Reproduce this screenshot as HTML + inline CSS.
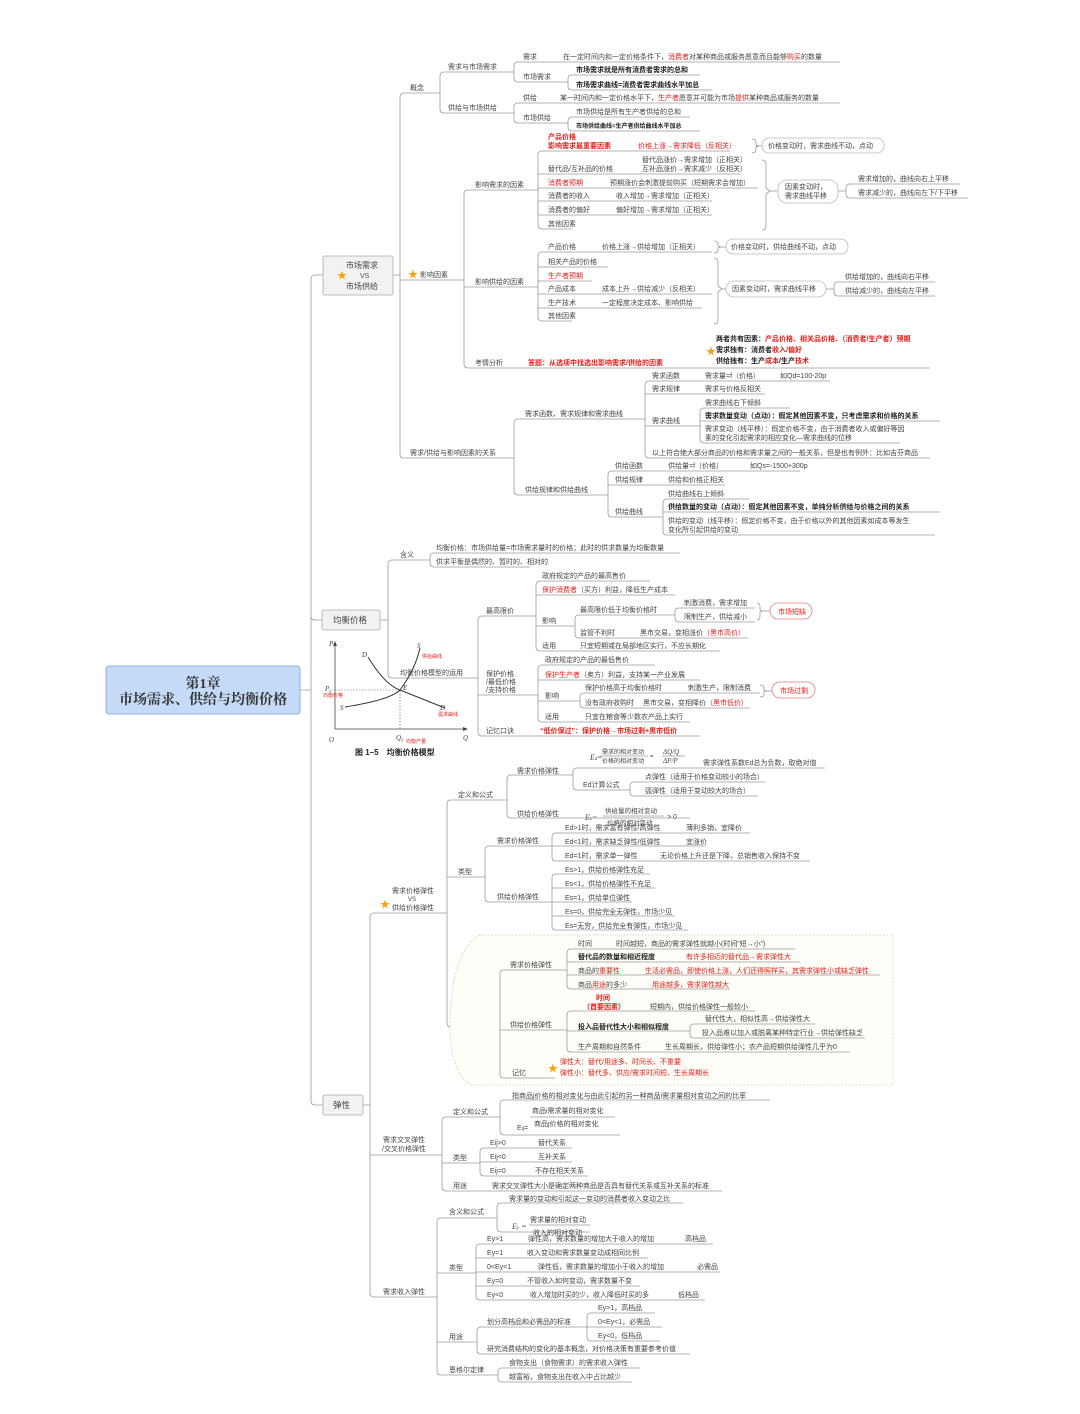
<!DOCTYPE html>
<html><head><meta charset="utf-8"><style>
html,body{margin:0;padding:0;background:#fff;}
svg{display:block;font-family:"Liberation Sans","Noto Sans CJK SC",sans-serif;}
text{font-size:7px;fill:#444;}
.r{fill:#e0201a;}
.b{font-weight:bold;fill:#222;}
.rb{fill:#e0201a;font-weight:bold;}
.l{stroke:#9a9a9a;stroke-width:0.8;fill:none;}
.box{fill:#f2f2f2;stroke:#aaa;stroke-width:0.8;}
.pill{fill:#fff;stroke:#bbb;stroke-width:0.8;}
.rpill{fill:#fff;stroke:#e08080;stroke-width:0.8;}
</style></head><body>
<svg width="1080" height="1414" viewBox="0 0 1080 1414" xmlns="http://www.w3.org/2000/svg">
<rect width="1080" height="1414" fill="#fff"/>

<!-- central -->
<path class="l" d="M300 690 H311 M311 279 V1101 M311 279 Q311 275 315 275 H323 M311 616 Q311 620 315 620 H322 M311 1101 Q311 1105 315 1105 H323"/>
<rect x="106" y="666" width="194" height="48" rx="3" fill="#c5daf6" stroke="#8fb0dd" stroke-width="1"/>
<text x="203" y="688" text-anchor="middle" style="font-size:14px;font-family:'Liberation Serif','Noto Serif CJK SC',serif;font-weight:bold;fill:#333">第1章</text>
<text x="203" y="704" text-anchor="middle" style="font-size:14px;font-family:'Liberation Serif','Noto Serif CJK SC',serif;font-weight:bold;fill:#333">市场需求、供给与均衡价格</text>

<!-- branch boxes -->
<rect class="box" x="323" y="256" width="70" height="39" rx="2"/>
<text x="337" y="279" style="font-size:10px;fill:#f2a60c">★</text>
<text x="346" y="268" style="font-size:8px">市场需求</text>
<text x="360" y="278" style="font-size:7px">VS</text>
<text x="346" y="289" style="font-size:8px">市场供给</text>
<rect class="box" x="322" y="610" width="58" height="20" rx="2"/>
<text x="333" y="623" style="font-size:8.5px">均衡价格</text>
<rect class="box" x="323" y="1095" width="40" height="20" rx="2"/>
<text x="333" y="1108" style="font-size:8.5px">弹性</text>

<!-- ===== Branch 1 ===== -->
<path class="l" d="M393 275 H400 M400 97 Q400 93 404 93 H440 M400 97 V454 Q400 458 404 458 H512 M400 280 H462"/>
<text x="410" y="90">概念</text>
<!-- 概念 -->
<path class="l" d="M440 93 V76 Q440 72 444 72 H512 M440 93 V109 Q440 113 444 113 H512"/>
<text x="448" y="69">需求与市场需求</text>
<text x="448" y="110">供给与市场供给</text>
<path class="l" d="M512 72 H514 V66 Q514 62 518 62 H840 M514 72 V78 Q514 82 518 82 H568 M568 82 V79 Q568 75 572 75 H700 M568 82 V86 Q568 90 572 90 H712"/>
<text x="523" y="59">需求</text>
<text x="563" y="59">在一定时间内和一定价格条件下，<tspan class="r">消费者</tspan>对某种商品或服务愿意而且能够<tspan class="r">购买</tspan>的数量</text>
<text x="523" y="79">市场需求</text>
<text x="576" y="72" class="b">市场需求就是所有消费者需求的总和</text>
<text x="576" y="87" class="b">市场需求曲线=消费者需求曲线水平加总</text>
<path class="l" d="M512 113 H514 V107 Q514 103 518 103 H840 M514 113 V119 Q514 123 518 123 H568 M568 123 V121 Q568 117 572 117 H690 M568 123 V127 Q568 131 572 131 H700"/>
<text x="523" y="100">供给</text>
<text x="560" y="100">某一时间内和一定价格水平下，<tspan class="r">生产者</tspan>愿意并可能为市场<tspan class="r">提供</tspan>某种商品或服务的数量</text>
<text x="523" y="120">市场供给</text>
<text x="576" y="114">市场供给是所有生产者供给的总和</text>
<text x="576" y="128" class="b" style="font-size:6px">市场供给曲线=生产者供给曲线水平加总</text>

<!-- 影响因素 -->
<text x="408" y="278" style="font-size:10px;fill:#f2a60c">★</text>
<text x="420" y="277">影响因素</text>
<path class="l" d="M462 280 H464 M464 194 Q464 190 468 190 H536 M464 194 V364 Q464 368 468 368 H930 M464 287 H536"/>
<text x="475" y="187">影响需求的因素</text>
<text x="475" y="284">影响供给的因素</text>
<text x="475" y="365">考情分析</text>
<text x="528" y="365" class="rb">答题：从选项中找选出影响需求/供给的因素</text>
<text x="706" y="355" style="font-size:10px;fill:#f2a60c">★</text>
<text x="716" y="341" class="b">两者共有因素：<tspan class="rb">产品价格、相关品价格、（消费者/生产者）预期</tspan></text>
<text x="716" y="352" class="b">需求独有：消费者<tspan class="rb">收入/偏好</tspan></text>
<text x="716" y="363" class="b">供给独有：生产<tspan class="rb">成本</tspan>/生产<tspan class="rb">技术</tspan></text>

<path class="l" d="M536 190 H538 V155 Q538 151 542 151 H730 M538 190 V225 Q538 229 542 229 H572 M538 174 H740 M538 188 H758 M538 201 H712 M538 215 H712"/>
<text x="548" y="139" class="rb">产品价格</text>
<text x="548" y="148" class="rb">影响需求最重要因素</text>
<text x="638" y="148" class="r">价格上涨→需求降低（反相关）</text>
<text x="548" y="171">替代品/互补品的价格</text>
<text x="642" y="162">替代品涨价→需求增加（正相关）</text>
<text x="642" y="171">互补品涨价→需求减少（反相关）</text>
<text x="548" y="185" class="r">消费者预期</text>
<text x="610" y="185">预期涨价会刺激提前购买（短期需求会增加）</text>
<text x="548" y="198">消费者的收入</text>
<text x="616" y="198">收入增加→需求增加（正相关）</text>
<text x="548" y="212">消费者的偏好</text>
<text x="616" y="212">偏好增加→需求增加（正相关）</text>
<text x="548" y="226">其他因素</text>
<path class="l" d="M752 139 Q756 139 756 143 V145 L759 146 L756 147 V149 Q756 153 752 153 M756 146 H762"/>
<rect class="pill" x="762" y="138" width="122" height="15" rx="7"/>
<text x="768" y="148">价格变动时，需求曲线不动，点动</text>
<path class="l" d="M762 160 Q766 160 766 164 V188 L770 191 L766 194 V226 Q766 230 762 230 M770 191 H778"/>
<rect class="pill" x="778" y="180" width="60" height="23" rx="9"/>
<text x="785" y="189">因素变动时，</text>
<text x="785" y="198">需求曲线平移</text>
<path class="l" d="M838 191 H846 M850 184 Q846 184 846 188 V194 Q846 198 850 198 M850 184 H960 M850 198 H968"/>
<text x="858" y="181">需求增加的，曲线向右上平移</text>
<text x="858" y="195">需求减少的，曲线向左下/下平移</text>

<path class="l" d="M536 287 H538 V256 Q538 252 542 252 H712 M538 287 V317 Q538 321 542 321 H572 M538 267 H608 M538 281 H592 M538 294 H712 M538 308 H702"/>
<text x="548" y="249">产品价格</text>
<text x="602" y="249">价格上涨→供给增加（正相关）</text>
<text x="548" y="264">相关产品的价格</text>
<text x="548" y="278" class="r">生产者预期</text>
<text x="548" y="291">产品成本</text>
<text x="602" y="291">成本上升→供给减少（反相关）</text>
<text x="548" y="305">生产技术</text>
<text x="602" y="305">一定程度决定成本、影响供给</text>
<text x="548" y="318">其他因素</text>
<path class="l" d="M714 241 Q718 241 718 244 V246 L721 247 L718 248 V250 Q718 253 714 253 M721 247 H726"/>
<rect class="pill" x="726" y="239" width="122" height="15" rx="7"/>
<text x="731" y="249">价格变动时，供给曲线不动，点动</text>
<path class="l" d="M714 258 Q718 258 718 262 V286 L722 289 L718 292 V320 Q718 324 714 324 M722 289 H726"/>
<rect class="pill" x="726" y="281" width="100" height="16" rx="8"/>
<text x="732" y="291">因素变动时，需求曲线平移</text>
<path class="l" d="M826 289 H834 M838 282 Q834 282 834 286 V292 Q834 296 838 296 M838 282 H935 M838 296 H935"/>
<text x="845" y="279">供给增加的，曲线向右平移</text>
<text x="845" y="293">供给减少的，曲线向左平移</text>

<!-- 需求/供给与影响因素的关系 -->
<text x="410" y="455">需求/供给与影响因素的关系</text>
<path class="l" d="M512 458 H514 M514 423 Q514 419 518 419 H640 M514 423 V491 Q514 495 518 495 H605"/>
<text x="525" y="416">需求函数、需求规律和需求曲线</text>
<text x="525" y="492">供给规律和供给曲线</text>
<path class="l" d="M640 419 H645 M645 385 Q645 381 649 381 H830 M645 385 V454 Q645 458 649 458 H930 M645 394 H765 M645 426 H700"/>
<text x="652" y="378">需求函数</text>
<text x="705" y="378">需求量=f（价格）</text>
<text x="780" y="378">如Qd=100-20p</text>
<text x="652" y="391">需求规律</text>
<text x="705" y="391">需求与价格反相关</text>
<text x="652" y="423">需求曲线</text>
<path class="l" d="M700 426 V412 Q700 408 704 408 H790 M700 421 H940 M700 426 V439 Q700 443 704 443 H900"/>
<text x="705" y="405">需求曲线右下倾斜</text>
<text x="705" y="418" class="b">需求数量变动（点动）：假定其他因素不变，只考虑需求和价格的关系</text>
<text x="705" y="431">需求变动（线平移）：假定价格不变，由于消费者收入或偏好等因</text>
<text x="705" y="440">素的变化引起需求的相应变化—需求曲线的位移</text>
<text x="652" y="455">以上符合绝大部分商品的价格和需求量之间的一般关系，但是也有例外：比如吉芬商品</text>
<path class="l" d="M605 495 H608 M608 475 Q608 471 612 471 H800 M608 475 V513 Q608 517 612 517 H663 M608 485 H725"/>
<text x="615" y="468">供给函数</text>
<text x="668" y="468">供给量=f（价格）</text>
<text x="750" y="468">如Qs=-1500+300p</text>
<text x="615" y="482">供给规律</text>
<text x="668" y="482">供给和价格正相关</text>
<text x="615" y="514">供给曲线</text>
<path class="l" d="M663 517 V503 Q663 499 667 499 H750 M663 512 H940 M663 517 V531 Q663 535 667 535 H935"/>
<text x="668" y="496">供给曲线右上倾斜</text>
<text x="668" y="509" class="b">供给数量的变动（点动）：假定其他因素不变，单纯分析供给与价格之间的关系</text>
<text x="668" y="523">供给的变动（线平移）：假定价格不变，由于价格以外的其他因素如成本等发生</text>
<text x="668" y="532">变化所引起供给的变动</text>

<!-- ===== 均衡价格 ===== -->
<path class="l" d="M380 620 H388 M388 564 Q388 560 392 560 H430 M388 564 V674 Q388 678 392 678 H478 M430 560 V557 Q430 553 434 553 H680 M430 560 V563 Q430 567 434 567 H530"/>
<text x="400" y="557">含义</text>
<text x="436" y="550">均衡价格：市场供给量=市场需求量时的价格；此时的供求数量为均衡数量</text>
<text x="436" y="564">供求平衡是偶然的、暂时的、相对的</text>
<text x="400" y="675">均衡价格模型的运用</text>
<path class="l" d="M478 678 V620 Q478 616 482 616 H536 M478 678 V732 Q478 736 482 736 H700 M478 695 H538"/>
<text x="486" y="613">最高限价</text>
<text x="486" y="676">保护价格</text>
<text x="486" y="684">/最低价格</text>
<text x="486" y="692">/支持价格</text>
<text x="486" y="733">记忆口诀</text>
<text x="540" y="733" class="rb">“低价保过”：保护价格→市场过剩+黑市低价</text>

<path class="l" d="M536 616 V585 Q536 581 540 581 H650 M536 616 V647 Q536 651 540 651 H720 M536 595 H675 M536 626 H575"/>
<text x="542" y="578">政府规定的产品的最高售价</text>
<text x="542" y="592"><tspan class="r">保护消费者</tspan>（买方）利益，降低生产成本</text>
<text x="542" y="623">影响</text>
<text x="542" y="648">适用</text>
<text x="580" y="648">只宜短期或在局部地区实行，不应长期化</text>
<path class="l" d="M575 626 V619 Q575 615 579 615 H670 M575 626 V634 Q575 638 579 638 H748"/>
<text x="580" y="612">最高限价低于均衡价格时</text>
<text x="580" y="635">监管不利时</text>
<text x="640" y="635">黑市交易，变相涨价<tspan class="r">（黑市高价）</tspan></text>
<path class="l" d="M670 615 H675 M679 608 Q675 608 675 612 V618 Q675 622 679 622 M679 608 H755 M679 622 H755"/>
<text x="684" y="605">刺激消费，需求增加</text>
<text x="684" y="619">限制生产，供给减小</text>
<path class="l" d="M757 603 Q760 603 760 607 V610 L763 611 L760 612 V616 Q760 620 757 620 M763 611 H770"/>
<rect class="rpill" x="770" y="603" width="42" height="16" rx="8"/>
<text x="778" y="614" class="r">市场短缺</text>

<path class="l" d="M538 695 V669 Q538 665 542 665 H655 M538 695 V718 Q538 722 542 722 H690 M538 680 H700 M538 701 H580"/>
<text x="545" y="662">政府规定的产品的最低售价</text>
<text x="545" y="677"><tspan class="r">保护生产者</tspan>（卖方）利益，支持某一产业发展</text>
<text x="545" y="698">影响</text>
<text x="545" y="719">适用</text>
<text x="585" y="719">只宜在粮食等少数农产品上实行</text>
<path class="l" d="M580 701 V697 Q580 693 584 693 H760 M580 701 V704 Q580 708 584 708 H750"/>
<text x="585" y="690">保护价格高于均衡价格时</text>
<text x="688" y="690">刺激生产，限制消费</text>
<text x="585" y="705">没有政府收购时</text>
<text x="643" y="705">黑市交易，变相降价<tspan class="r">（黑市低价）</tspan></text>
<path class="l" d="M760 685 Q764 685 764 688 V690 L767 691 L764 692 V694 Q764 697 760 697 M767 691 H772"/>
<rect class="rpill" x="772" y="682" width="43" height="16" rx="8"/>
<text x="780" y="693" class="r">市场过剩</text>

<!-- graph -->
<g>
<path d="M335 729 V643 M335 729 H466" stroke="#444" stroke-width="0.8" fill="none"/>
<path d="M333 646 L335 641 L337 646 Z M463 727 L468 729 L463 731 Z" fill="#444"/>
<path d="M368 657 Q385 685 400 690 Q425 700 445 708" stroke="#333" stroke-width="1" fill="none"/>
<path d="M345 707 Q390 700 400 690 Q415 670 420 648" stroke="#333" stroke-width="1" fill="none"/>
<path d="M335 690 H400 V729" stroke="#555" stroke-width="0.6" stroke-dasharray="1.5,1.5" fill="none"/>
<text x="329" y="646" style="font-style:italic;font-family:'Liberation Serif',serif;">P</text>
<text x="362" y="657" style="font-style:italic;font-family:'Liberation Serif',serif;">D</text>
<text x="417" y="648" style="font-style:italic;font-family:'Liberation Serif',serif;">S</text>
<text x="422" y="658" class="r" style="font-size:5px">供给曲线</text>
<text x="403" y="690" style="font-style:italic;font-family:'Liberation Serif',serif;">E</text>
<text x="325" y="691" style="font-style:italic;font-family:'Liberation Serif',serif;">P₀</text>
<text x="323" y="697" class="r" style="font-size:5px">均衡价格</text>
<text x="340" y="710" style="font-style:italic;font-family:'Liberation Serif',serif;">S</text>
<text x="440" y="710" style="font-style:italic;font-family:'Liberation Serif',serif;">D</text>
<text x="438" y="716" class="r" style="font-size:5px">需求曲线</text>
<text x="329" y="742" style="font-style:italic;font-family:'Liberation Serif',serif;">O</text>
<text x="396" y="740" style="font-style:italic;font-family:'Liberation Serif',serif;">Q₀</text>
<text x="406" y="743" class="r" style="font-size:5px">均衡产量</text>
<text x="463" y="740" style="font-style:italic;font-family:'Liberation Serif',serif;">Q</text>
<text x="355" y="755" class="b" style="font-size:8px">图 1–5　均衡价格模型</text>
</g>

<!-- ===== 弹性 ===== -->
<path class="l" d="M363 1105 H370 M370 917 Q370 913 374 913 H447 M370 917 V1293 Q370 1297 374 1297 H437 M370 1155 H442"/>
<text x="380" y="908" style="font-size:10px;fill:#f2a60c">★</text>
<text x="392" y="893">需求价格弹性</text>
<text x="408" y="901" style="font-size:6px">VS</text>
<text x="392" y="910">供给价格弹性</text>

<path class="l" d="M447 913 V804 Q447 800 451 800 H507 M447 913 V1023 Q447 1027 451 1027 H500 M447 877 H485"/>
<text x="458" y="797">定义和公式</text>
<text x="458" y="874">类型</text>
<text x="458" y="1024">影响因素</text>
<path class="l" d="M507 800 V779 Q507 775 511 775 H573 M507 800 V814 Q507 818 511 818 H582"/>
<text x="517" y="773">需求价格弹性</text>
<text x="517" y="816">供给价格弹性</text>
<text x="590" y="760" style="font-style:italic;font-family:'Liberation Serif',serif;font-size:8px">E<tspan style="font-size:5px">d</tspan>=</text>
<text x="602" y="754" style="font-size:6px">需求的相对变动</text>
<line x1="601" y1="756" x2="648" y2="756" stroke="#666" stroke-width="0.5"/>
<text x="602" y="763" style="font-size:6px">价格的相对变动</text>
<text x="650" y="758" style="font-size:6px">=</text>
<text x="663" y="754" style="font-style:italic;font-family:'Liberation Serif',serif;font-size:7px">ΔQ/Q</text>
<line x1="662" y1="756" x2="685" y2="756" stroke="#666" stroke-width="0.5"/>
<text x="663" y="763" style="font-style:italic;font-family:'Liberation Serif',serif;font-size:7px">ΔP/P</text>
<path class="l" d="M573 775 V772 Q573 768 577 768 H825 M573 775 V786 Q573 790 577 790 H630 M630 790 V786 Q630 782 634 782 H765 M630 790 V792 Q630 796 634 796 H758"/>
<text x="703" y="765">需求弹性系数Ed总为负数，取绝对值</text>
<text x="583" y="787">Ed计算公式</text>
<text x="645" y="779">点弹性（适用于价格变动较小的场合）</text>
<text x="645" y="793">弧弹性（适用于变动较大的场合）</text>
<text x="585" y="820" style="font-style:italic;font-family:'Liberation Serif',serif;font-size:8px">E<tspan style="font-size:5px">s</tspan>=</text>
<text x="605" y="813" style="font-size:6.5px">供给量的相对变动</text>
<line x1="603" y1="816" x2="664" y2="816" stroke="#666" stroke-width="0.5"/>
<text x="607" y="825" style="font-size:6.5px">价格的相对变动</text>
<text x="667" y="819" style="font-size:7px">&gt; 0</text>
<path class="l" d="M582 818 H690"/>

<path class="l" d="M485 877 V850 Q485 846 489 846 H552 M485 877 V898 Q485 902 489 902 H552"/>
<text x="497" y="843">需求价格弹性</text>
<text x="497" y="899">供给价格弹性</text>
<path class="l" d="M552 846 V837 Q552 833 556 833 H750 M552 846 H705 M552 846 V857 Q552 861 556 861 H810"/>
<text x="565" y="830">Ed&gt;1时，需求富有弹性/高弹性</text>
<text x="686" y="830">薄利多销，宜降价</text>
<text x="565" y="844">Ed&lt;1时，需求缺乏弹性/低弹性</text>
<text x="686" y="844">宜涨价</text>
<text x="565" y="858">Ed=1时，需求单一弹性</text>
<text x="660" y="858">无论价格上升还是下降，总销售收入保持不变</text>
<path class="l" d="M552 902 V878 Q552 874 556 874 H650 M552 888 H655 M552 902 H632 M552 916 H675 M552 902 V926 Q552 930 556 930 H688"/>
<text x="565" y="872">Es&gt;1，供给价格弹性充足</text>
<text x="565" y="886">Es&lt;1，供给价格弹性不充足</text>
<text x="565" y="900">Es=1，供给单位弹性</text>
<text x="565" y="914">Es=0，供给完全无弹性，市场少见</text>
<text x="565" y="928">Es=无穷，供给完全有弹性，市场少见</text>

<!-- 影响因素 box -->
<path d="M480 935 Q465 945 460 960 Q450 985 450 1027 Q450 1070 470 1085 H893 V935 Z" fill="#fffdf8" stroke="#d8cfc0" stroke-width="0.8" stroke-dasharray="2,1.5"/>
<path class="l" d="M500 1027 H500 M500 974 Q500 970 504 970 H567 M500 974 V1074 Q500 1078 504 1078 H555 M500 1030 H567"/>
<text x="510" y="967">需求价格弹性</text>
<text x="510" y="1027">供给价格弹性</text>
<text x="512" y="1075">记忆</text>
<path class="l" d="M567 970 V953 Q567 949 571 949 H795 M567 962 H800 M567 975 H880 M567 970 V985 Q567 989 571 989 H730"/>
<text x="578" y="946">时间</text>
<text x="616" y="946">时间越短，商品的需求弹性就越小(时间“短→小”)</text>
<text x="578" y="959" class="b">替代品的数量和相近程度</text>
<text x="686" y="959" class="r">有许多相近的替代品→需求弹性大</text>
<text x="578" y="973">商品的<tspan class="r">重要性</tspan></text>
<text x="645" y="973" class="r">生活必需品，即使价格上涨，人们还得照样买，其需求弹性小或缺乏弹性</text>
<text x="578" y="987">商品<tspan class="r">用途</tspan>的多少</text>
<text x="652" y="987" class="r">用途越多，需求弹性越大</text>
<path class="l" d="M567 1030 V1015 Q567 1011 571 1011 H755 M567 1031 H690 M567 1030 V1048 Q567 1052 571 1052 H850"/>
<text x="596" y="1000" class="rb">时间</text>
<text x="583" y="1009" class="rb">（首要因素）</text>
<text x="650" y="1009">短期内，供给价格弹性一般较小</text>
<text x="578" y="1029" class="b">投入品替代性大小和相似程度</text>
<path class="l" d="M690 1031 V1028 Q690 1024 694 1024 H815 M690 1031 V1034 Q690 1038 694 1038 H865"/>
<text x="705" y="1021">替代性大，相似性高→供给弹性大</text>
<text x="702" y="1035">投入品难以加入或脱离某种特定行业→供给弹性缺乏</text>
<text x="578" y="1049">生产周期和自然条件</text>
<text x="665" y="1049">生长周期长，供给弹性小；农产品短期供给弹性几乎为0</text>
<text x="548" y="1072" style="font-size:10px;fill:#f2a60c">★</text>
<text x="560" y="1064" class="r">弹性大：替代/用途多、时间长、不重要</text>
<text x="560" y="1075" class="r">弹性小：替代多、供应/需求时间短、生长周期长</text>

<!-- 需求交叉弹性 -->
<text x="383" y="1142">需求交叉弹性</text>
<text x="382" y="1151">/交叉价格弹性</text>
<path class="l" d="M442 1155 V1121 Q442 1117 446 1117 H500 M442 1155 V1187 Q442 1191 446 1191 H722 M442 1163 H480"/>
<text x="453" y="1114">定义和公式</text>
<text x="453" y="1160">类型</text>
<text x="453" y="1188">用途</text>
<text x="492" y="1188">需求交叉弹性大小是确定两种商品是否具有替代关系或互补关系的标准</text>
<path class="l" d="M500 1117 V1104 Q500 1100 504 1100 H770 M500 1117 V1131 Q500 1135 504 1135 H620"/>
<text x="512" y="1098">指商品j价格的相对变化与由此引起的另一种商品i需求量相对变动之间的比率</text>
<text x="532" y="1113">商品i需求量的相对变化</text>
<line x1="530" y1="1117" x2="615" y2="1117" stroke="#666" stroke-width="0.5"/>
<text x="534" y="1126">商品j价格的相对变化</text>
<text x="517" y="1130">E<tspan style="font-size:5px">ij</tspan>=</text>
<path class="l" d="M480 1163 V1152 Q480 1148 484 1148 H572 M480 1162 H572 M480 1163 V1172 Q480 1176 484 1176 H588"/>
<text x="490" y="1145">Eij&gt;0</text>
<text x="538" y="1145">替代关系</text>
<text x="490" y="1159">Eij&lt;0</text>
<text x="538" y="1159">互补关系</text>
<text x="490" y="1173">Eij=0</text>
<text x="535" y="1173">不存在相关关系</text>

<!-- 需求收入弹性 -->
<text x="383" y="1294">需求收入弹性</text>
<path class="l" d="M437 1297 V1222 Q437 1218 441 1218 H492 M437 1297 V1371 Q437 1375 441 1375 H497 M437 1273 H476 M437 1342 H477"/>
<text x="449" y="1214">含义和公式</text>
<text x="449" y="1270">类型</text>
<text x="449" y="1339">用途</text>
<text x="449" y="1372">恩格尔定律</text>
<path class="l" d="M492 1218 H497 V1207 Q497 1203 501 1203 H683 M497 1218 V1228 Q497 1232 501 1232 H590"/>
<text x="509" y="1201">需求量的变动和引起这一变动的消费者收入变动之比</text>
<text x="512" y="1229" style="font-style:italic;font-family:'Liberation Serif',serif;font-size:8px">E<tspan style="font-size:5px">y</tspan> =</text>
<text x="530" y="1222">需求量的相对变动</text>
<line x1="529" y1="1225" x2="590" y2="1225" stroke="#666" stroke-width="0.5"/>
<text x="533" y="1235">收入的相对变动</text>
<path class="l" d="M476 1273 V1248 Q476 1244 480 1244 H713 M476 1258 H648 M476 1272 H720 M476 1286 H640 M476 1273 V1296 Q476 1300 480 1300 H705"/>
<text x="487" y="1241">Ey&gt;1</text>
<text x="528" y="1241">弹性高，需求数量的增加大于收入的增加</text>
<text x="685" y="1241">高档品</text>
<text x="487" y="1255">Ey=1</text>
<text x="527" y="1255">收入变动和需求数量变动成相同比例</text>
<text x="487" y="1269">0&lt;Ey&lt;1</text>
<text x="538" y="1269">弹性低，需求数量的增加小于收入的增加</text>
<text x="697" y="1269">必需品</text>
<text x="487" y="1283">Ey=0</text>
<text x="527" y="1283">不管收入如何变动，需求数量不变</text>
<text x="487" y="1297">Ey&lt;0</text>
<text x="530" y="1297">收入增加时买的少，收入降低时买的多</text>
<text x="678" y="1297">低档品</text>
<path class="l" d="M477 1342 V1331 Q477 1327 481 1327 H587 M477 1342 V1350 Q477 1354 481 1354 H690"/>
<text x="487" y="1324">划分高档品和必需品的标准</text>
<text x="487" y="1351">研究消费结构的变化的基本概念，对价格决策有重要参考价值</text>
<path class="l" d="M587 1327 V1317 Q587 1313 591 1313 H655 M587 1327 H662 M587 1327 V1337 Q587 1341 591 1341 H660"/>
<text x="598" y="1310">Ey&gt;1，高档品</text>
<text x="598" y="1324">0&lt;Ey&lt;1，必需品</text>
<text x="598" y="1338">Ey&lt;0，低档品</text>
<path class="l" d="M497 1375 H498 V1372 Q498 1368 502 1368 H640 M498 1375 V1378 Q498 1382 502 1382 H632"/>
<text x="509" y="1365">食物支出（食物需求）的需求收入弹性</text>
<text x="509" y="1379">越富裕，食物支出在收入中占比越少</text>
</svg>
</body></html>
